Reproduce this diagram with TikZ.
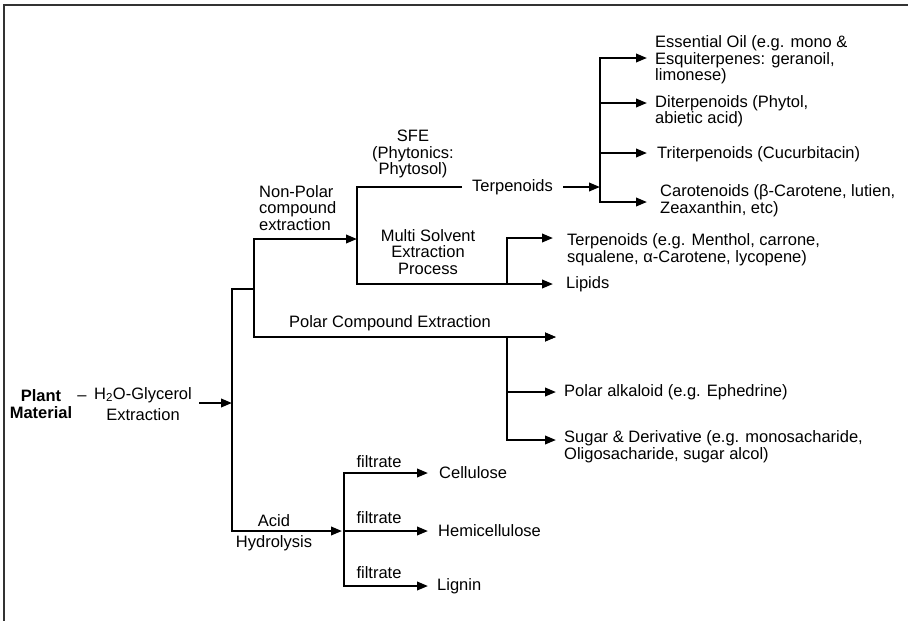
\documentclass[tikz,border=0pt]{standalone}
\usepackage{fontspec}
\setmainfont{Liberation Sans}
\usetikzlibrary{arrows.meta}

\begin{document}
\begin{tikzpicture}[x=1pt,y=-1pt,
  txt/.style={inner sep=0pt, font=\fontsize{16.5}{16.5}\selectfont, align=left, anchor=west},
  ctxt/.style={txt, align=center, anchor=center},
  ln/.style={line width=2.2pt, black},
  arr/.style={ln, -{Triangle[length=11pt,width=8.5pt]}},
  frame/.style={line width=1.6pt, black!80}]
\useasboundingbox (0,0) rectangle (908,621);

% partial frame: left and top edges
\draw[frame] (4,621) -- (4,5) -- (908,5);

% ---------- starting material ----------
\node[ctxt, font=\fontsize{16.5}{16.5}\selectfont\bfseries] (plant) at (41,404) {Plant\\Material};
\node[ctxt] (dash) at (82,398) {–};
\node[ctxt, font=\fontsize{16.5}{21}\selectfont] (h2o) at (143,404) {H\textsubscript{2}O-Glycerol\\Extraction};

% ---------- junction points ----------
\coordinate (hOut)  at (199,403);
\coordinate (tMid)  at (232,403);
\coordinate (tTop)  at (232,289);
\coordinate (tBot)  at (232,531);
\coordinate (npMid) at (254,289);
\coordinate (npTop) at (254,239);
\coordinate (npBot) at (254,337);
\coordinate (nj)    at (357,239);
\coordinate (sTop)  at (357,187);
\coordinate (sBot)  at (357,284);
\coordinate (sEnd)  at (462,187);
\coordinate (tOut)  at (563,187);
\coordinate (bJ)    at (600,187);
\coordinate (bTop)  at (600,58);
\coordinate (bD)    at (600,103);
\coordinate (bT)    at (600,153);
\coordinate (bBot)  at (600,202);
\coordinate (mTop)  at (507,238);
\coordinate (mBot)  at (507,284);
\coordinate (pTop)  at (507,337);
\coordinate (pMid)  at (507,392);
\coordinate (pBot)  at (507,440);
\coordinate (aJ)    at (342,531);
\coordinate (aTop)  at (344,473);
\coordinate (aMid)  at (344,531);
\coordinate (aBot)  at (344,586);

% arrow tips
\coordinate (eoTip)  at (647,58);
\coordinate (diTip)  at (647,103);
\coordinate (trTip)  at (647,153);
\coordinate (caTip)  at (647,202);
\coordinate (teTip)  at (553,238);
\coordinate (liTip)  at (553,284);
\coordinate (poTip)  at (556,337);
\coordinate (alTip)  at (556,392);
\coordinate (suTip)  at (556,440);
\coordinate (ceTip)  at (428,473);
\coordinate (heTip)  at (428,531);
\coordinate (lgTip)  at (428,586);

% ---------- labels ----------
\node[txt] (np) at (259,208) {Non-Polar\\compound\\extraction};
\node[ctxt] (sfe) at (413,154) {SFE\\(Phytonics:\\Phytosol)};
\node[txt] (terp) at (472,187) {Terpenoids};
\node[ctxt] (multi) at (428,252) {Multi Solvent\\Extraction\\Process};
\node[ctxt] (polar) at (390,323) {Polar Compound Extraction};
\node[ctxt] (acid) at (274,521) {Acid};
\node[ctxt] (hydro) at (274,543) {Hydrolysis};
\node[ctxt] (f1) at (379,462) {filtrate};
\node[ctxt] (f2) at (379,518) {filtrate};
\node[ctxt] (f3) at (379,573) {filtrate};

% ---------- products ----------
\node[txt] (eo) at (655,60) {Essential Oil (e.g. mono \&\\Esquiterpenes: geranoil,\\limonese)};
\node[txt] (di) at (655,111) {Diterpenoids (Phytol,\\abietic acid)};
\node[txt] (tri) at (657,154) {Triterpenoids (Cucurbitacin)};
\node[txt] (car) at (660,200.5) {Carotenoids (β-Carotene, lutien,\\Zeaxanthin, etc)};
\node[txt] (te) at (567,249.5) {Terpenoids (e.g. Menthol, carrone,\\squalene, α-Carotene, lycopene)};
\node[txt] (lip) at (566,284) {Lipids};
\node[txt] (alk) at (564,392) {Polar alkaloid (e.g. Ephedrine)};
\node[txt] (sug) at (564,446.5) {Sugar \& Derivative (e.g. monosacharide,\\Oligosacharide, sugar alcol)};
\node[txt] (cel) at (439,473) {Cellulose};
\node[txt] (hem) at (438,531) {Hemicellulose};
\node[txt] (lig) at (437,586) {Lignin};

% ---------- connectors ----------
\draw[arr] (hOut) -- (tMid);
\draw[arr] (npMid) -- (tTop) -- (tBot) -- (aJ);
\draw[arr] (npBot) -- (npTop) -- (nj);
\draw[arr] (npTop) -- (npBot) -- (poTip);

\draw[ln] (sEnd) -- (sTop) -- (sBot);
\draw[arr] (sTop) -- (sBot) -- (liTip);
\draw[arr] (mBot) -- (mTop) -- (teTip);

\draw[arr] (tOut) -- (bJ);
\draw[arr] (bBot) -- (bTop) -- (eoTip);
\draw[arr] (bTop) -- (bBot) -- (caTip);
\draw[arr] (bD) -- (diTip);
\draw[arr] (bT) -- (trTip);

\draw[arr] (pBot) -- (pTop) -- (poTip);
\draw[arr] (pTop) -- (pBot) -- (suTip);
\draw[arr] (pMid) -- (alTip);

\draw[arr] (aBot) -- (aTop) -- (ceTip);
\draw[arr] (aTop) -- (aBot) -- (lgTip);
\draw[arr] (aMid) -- (heTip);
\end{tikzpicture}
\end{document}
